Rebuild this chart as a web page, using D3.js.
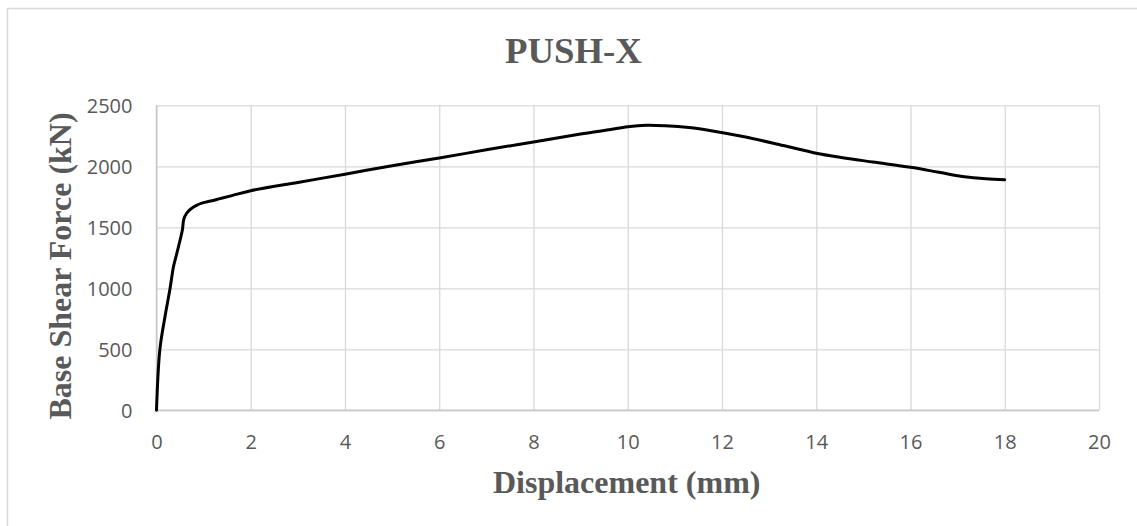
<!DOCTYPE html>
<html>
<head>
<meta charset="utf-8">
<script src="https://cdn.jsdelivr.net/npm/d3@7"></script>
<style>
  html, body { margin: 0; padding: 0; background: #fff; }
  svg { display: block; }
</style>
</head>
<body>
<svg id="chart" width="1137" height="526"></svg>
<script>
// Pushover curve, X direction
const displacement = [0, 0.07, 0.18, 0.29, 0.36, 0.43, 0.51, 0.55, 0.58, 0.64, 0.72, 0.85, 0.98, 1.15, 1.35, 1.6, 2, 3, 4, 5, 6, 7, 8, 9, 9.6, 10, 10.4, 10.8, 11.3, 11.8, 12.5, 13.3, 14, 14.5, 15.2, 16, 16.6, 17.1, 17.6, 18];
const baseShear = [0, 494, 767, 1005, 1177, 1285, 1410, 1480, 1568, 1615, 1648, 1680, 1700, 1715, 1735, 1760, 1800, 1868, 1935, 2005, 2068, 2135, 2200, 2265, 2300, 2325, 2337, 2333, 2318, 2290, 2240, 2170, 2107, 2074, 2035, 1992, 1951, 1917, 1897, 1890];
const xTicks = [0, 2, 4, 6, 8, 10, 12, 14, 16, 18, 20];
const yTicks = [0, 500, 1000, 1500, 2000, 2500];

const titleText = "PUSH-X";
const xTitle = "Displacement (mm)";
const yTitle = "Base Shear Force (kN)";

const svg = d3.select("#chart");
const plot = { left: 156.5, right: 1099, top: 105.3, bottom: 410.3 };

const x = d3.scaleLinear().domain([0, 20]).range([plot.left, plot.right]);
const y = d3.scaleLinear().domain([0, 2500]).range([plot.bottom, plot.top]);

const gray = "#595959";
const gridColor = "#d9d9d9";
const tickFont = "'Open Sans', 'Noto Sans', sans-serif";
const serif = "'Liberation Serif', 'Times New Roman', serif";

// chart area frame (left and top edges visible)
svg.append("path")
  .attr("d", "M7.5,530 L7.5,8.5 L1145,8.5")
  .attr("fill", "none")
  .attr("stroke", gridColor)
  .attr("stroke-width", 1.5);

// vertical gridlines + x tick labels
const xAxis = svg.append("g")
  .attr("transform", `translate(0,${plot.bottom})`)
  .call(d3.axisBottom(x).tickValues(xTicks).tickFormat(d3.format("d"))
    .tickSize(-(plot.bottom - plot.top)).tickPadding(0));
xAxis.select(".domain").remove();
xAxis.selectAll(".tick line").attr("stroke", gridColor).attr("stroke-width", 1.3);
xAxis.selectAll(".tick text")
  .attr("y", 39).attr("dy", 0)
  .attr("fill", gray)
  .style("font-family", tickFont).style("font-size", "20px");

// horizontal gridlines + y tick labels
const yAxis = svg.append("g")
  .attr("transform", `translate(${plot.left},0)`)
  .call(d3.axisLeft(y).tickValues(yTicks).tickFormat(d3.format("d"))
    .tickSize(-(plot.right - plot.left)).tickPadding(0));
yAxis.select(".domain").remove();
yAxis.selectAll(".tick line").attr("stroke", gridColor).attr("stroke-width", 1.3);
yAxis.selectAll(".tick text")
  .attr("x", -24).attr("dy", "0.35em")
  .attr("fill", gray)
  .style("font-family", tickFont).style("font-size", "20px");

// axis lines
svg.append("line")
  .attr("x1", plot.left).attr("x2", plot.right)
  .attr("y1", y(0)).attr("y2", y(0))
  .attr("stroke", "#c8c8c8").attr("stroke-width", 1.5);
svg.append("line")
  .attr("x1", x(0)).attr("x2", x(0))
  .attr("y1", plot.top).attr("y2", plot.bottom)
  .attr("stroke", "#c8c8c8").attr("stroke-width", 1.5);

// capacity curve (smoothed)
const points = displacement.map((d, i) => [d, baseShear[i]]);
const line = d3.line()
  .x(d => x(d[0]))
  .y(d => y(d[1]))
  .curve(d3.curveCatmullRom.alpha(0.5));
svg.append("path")
  .datum(points)
  .attr("d", line)
  .attr("fill", "none")
  .attr("stroke", "#000")
  .attr("stroke-width", 3)
  .attr("stroke-linejoin", "round")
  .attr("stroke-linecap", "round");

// titles
svg.append("text")
  .attr("x", 573.4).attr("y", 63.3)
  .attr("text-anchor", "middle")
  .attr("fill", gray)
  .style("font-family", serif).style("font-weight", "bold").style("font-size", "36.8px")
  .text(titleText);

svg.append("text")
  .attr("x", 626.7).attr("y", 493)
  .attr("text-anchor", "middle")
  .attr("fill", gray)
  .style("font-family", serif).style("font-weight", "bold").style("font-size", "32px")
  .text(xTitle);

svg.append("text")
  .attr("transform", "translate(71,266) rotate(-90)")
  .attr("text-anchor", "middle")
  .attr("fill", gray)
  .style("font-family", serif).style("font-weight", "bold").style("font-size", "32px")
  .text(yTitle);
</script>
</body>
</html>
